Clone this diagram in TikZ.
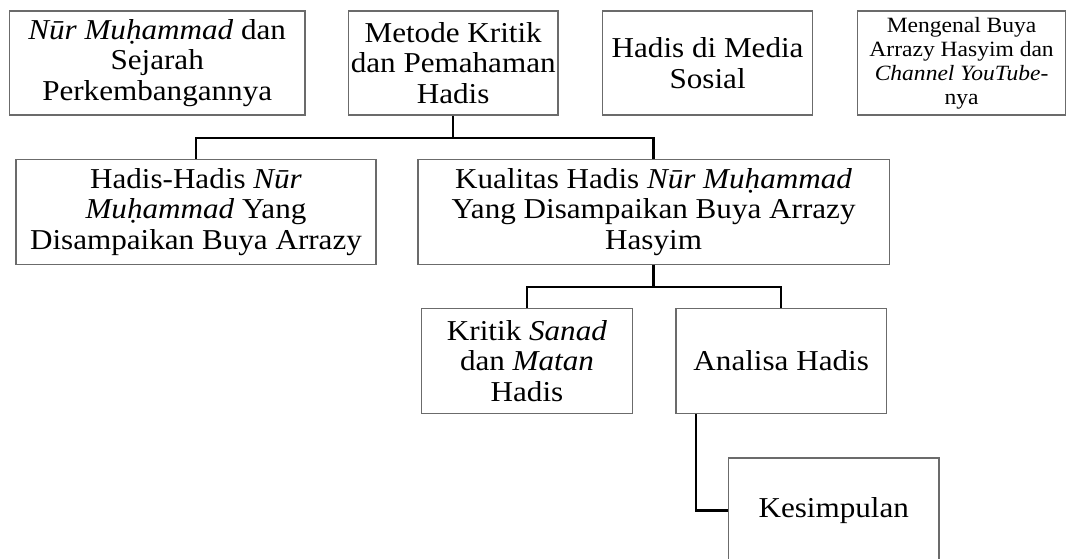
\documentclass[tikz,border=0pt]{standalone}
\usepackage{fontspec}
\setmainfont{Liberation Serif}[FakeStretch=1.08]
\usepackage{tikz}

\begin{document}
\begin{tikzpicture}[
  box/.style={draw=black!58,line width=0.75pt,align=center,inner sep=0pt,
    minimum width=5.26cm,minimum height=2.62cm,font=\fontsize{20.5}{21.9}\selectfont},
  link/.style={line width=1.7pt}]
\useasboundingbox (0,0) rectangle (26.75,-13.975);
\clip (0,0) rectangle (26.75,-13.975);
\node (1) at (3.93,-1.575) [box,minimum width=7.39cm,minimum height=2.6cm] {\textit{Nūr Muḥammad} dan\\Sejarah\\Perkembangannya};
\node (2) at (11.33,-1.575) [box,minimum width=5.24cm,minimum height=2.6cm] {Metode Kritik\\dan Pemahaman\\Hadis};
\node (3) at (17.69,-1.575) [box,minimum height=2.6cm] {Hadis di Media\\Sosial};
\node (4) at (24.04,-1.575) [box,minimum width=5.21cm,minimum height=2.6cm,font=\fontsize{15.5}{17.1}\selectfont] {Mengenal Buya\\Arrazy Hasyim dan\\\textit{Channel YouTube}-\\nya};
\node (5) at (4.9,-5.3) [box,minimum width=9cm] {Hadis-Hadis \textit{Nūr}\\\textit{Muḥammad} Yang\\Disampaikan Buya Arrazy};
\node (6) at (16.34,-5.3) [box,minimum width=11.78cm] {Kualitas Hadis \textit{Nūr Muḥammad}\\Yang Disampaikan Buya Arrazy\\Hasyim};
\node (7) at (13.175,-9.025) [box] {Kritik \textit{Sanad}\\dan \textit{Matan}\\Hadis};
\node (8) at (19.53,-9.025) [box] {Analisa Hadis};
\node (9) at (20.845,-12.76) [box] {Kesimpulan};
\draw [link] (2) -- (2 |- 0,-3.45) -| (5);
\draw [link] (2 |- 0,-3.45) -| (6);
\draw [link] (6) -- (6 |- 0,-7.17) -| (7);
\draw [link] (6 |- 0,-7.17) -| (8);
\draw [link] ([xshift=0.52cm]8.south west) |- (9);
\end{tikzpicture}
\end{document}
